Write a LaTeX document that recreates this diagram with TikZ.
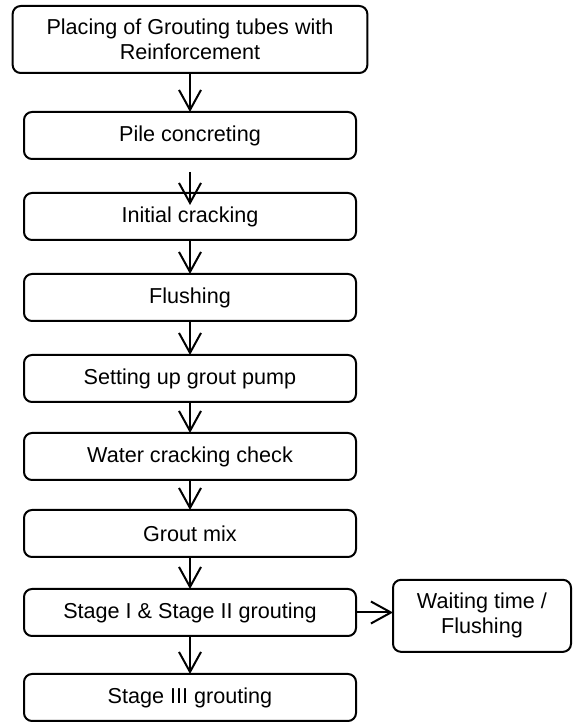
\documentclass[tikz,border=0pt]{standalone}
\usepackage{fontspec}
\setmainfont{Liberation Sans}
\usetikzlibrary{arrows.meta,positioning}

\begin{document}
\begin{tikzpicture}[x=0.75pt, y=0.75pt, node distance=25.5pt,
  font=\fontsize{16.2}{18.75}\selectfont,
  box/.style={rectangle, draw, line width=1.5pt, rounded corners=6pt, outer sep=0pt, minimum width=249pt, minimum height=35.25pt, align=center, inner sep=2pt},
  flow/.style={-{Straight Barb[length=15pt, width=16.5pt]}, line width=1.5pt}]
\useasboundingbox (0,0) rectangle (572,722);
\node[box, minimum width=266pt, minimum height=50.25pt] (place) at (190,682.5) {Placing of Grouting tubes with\\Reinforcement};
\node[box, below=29.25pt of place] (pile) {Pile concreting};
\node[box, below=of pile] (crack) {Initial cracking};
\node[box, below=of crack] (flush) {Flushing};
\node[box, below=of flush] (pump) {Setting up grout pump};
\node[box, below=23.25pt of pump] (water) {Water cracking check};
\node[box, below=22.5pt of water] (mix) {Grout mix};
\node[box, below=24pt of mix] (stage12) {Stage I \& Stage II grouting};
\node[box, below=28.5pt of stage12] (stage3) {Stage III grouting};
\node[box, right=27.75pt of stage12, yshift=-2.5pt, minimum width=133.5pt, minimum height=54pt] (wait) {Waiting time /\\Flushing};
% arrows
\draw[flow] (place) -- (pile);
\draw[flow, shorten <=9.75pt, shorten >=-9pt] (pile) -- (crack);
\draw[flow] (crack) -- (flush);
\draw[flow] (flush) -- (pump);
\draw[flow] (pump) -- (water);
\draw[flow] (water) -- (mix);
\draw[flow] (mix) -- (stage12);
\draw[flow] (stage12) -- (stage12 -| wait.west);
\draw[flow] (stage12) -- (stage3);
\end{tikzpicture}
\end{document}
